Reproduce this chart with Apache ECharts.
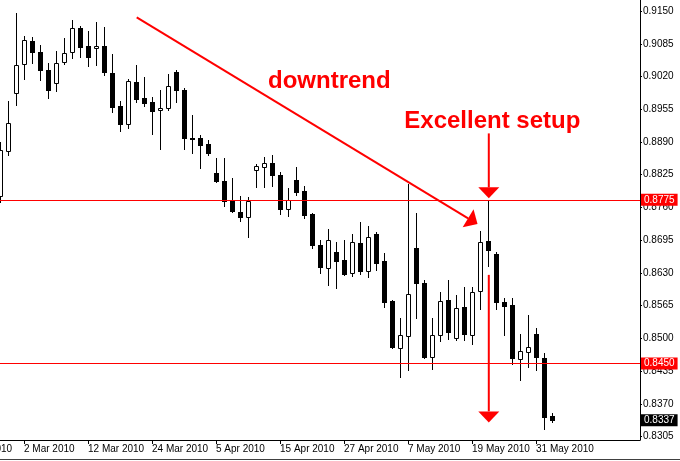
<!DOCTYPE html>
<html><head><meta charset="utf-8">
<script src="https://cdn.jsdelivr.net/npm/echarts@6/dist/echarts.min.js"></script>
<style>html,body{margin:0;padding:0;background:#fff}#c{width:680px;height:461px}</style>
</head><body><div id="c"></div>
<script>
// ---- data ----
const dates = ['25 Feb 2010','26 Feb 2010','1 Mar 2010','2 Mar 2010','3 Mar 2010','4 Mar 2010','5 Mar 2010','8 Mar 2010','9 Mar 2010','10 Mar 2010','11 Mar 2010','12 Mar 2010','15 Mar 2010','16 Mar 2010','17 Mar 2010','18 Mar 2010','19 Mar 2010','22 Mar 2010','23 Mar 2010','24 Mar 2010','25 Mar 2010','26 Mar 2010','29 Mar 2010','30 Mar 2010','31 Mar 2010','1 Apr 2010','2 Apr 2010','5 Apr 2010','6 Apr 2010','7 Apr 2010','8 Apr 2010','9 Apr 2010','12 Apr 2010','13 Apr 2010','14 Apr 2010','15 Apr 2010','16 Apr 2010','19 Apr 2010','20 Apr 2010','21 Apr 2010','22 Apr 2010','23 Apr 2010','26 Apr 2010','27 Apr 2010','28 Apr 2010','29 Apr 2010','30 Apr 2010','3 May 2010','4 May 2010','5 May 2010','6 May 2010','7 May 2010','10 May 2010','11 May 2010','12 May 2010','13 May 2010','14 May 2010','17 May 2010','18 May 2010','19 May 2010','20 May 2010','21 May 2010','24 May 2010','25 May 2010','26 May 2010','27 May 2010','28 May 2010','31 May 2010','1 Jun 2010','2 Jun 2010'];

const openP = [0.8783,0.8873,0.8987,0.9044,0.9090,0.9068,0.9032,0.9008,0.9048,0.9068,
0.9116,0.9080,0.9076,0.9080,0.9027,0.8961,0.8925,0.9009,0.8977,0.8969,
0.8953,0.8958,0.9029,0.8993,0.8898,0.8898,0.8886,0.8828,0.8813,0.8773,
0.8751,0.8740,0.8834,0.8841,0.8848,0.8824,0.8756,0.8815,0.8793,0.8747,
0.8685,0.8640,0.8672,0.8656,0.8629,0.8689,0.8633,0.8707,0.8654,0.8574,
0.8480,0.8504,0.8680,0.8610,0.8463,0.8506,0.8576,0.8500,0.8562,0.8507,
0.8594,0.8693,0.8668,0.8572,0.8566,0.8458,0.8473,0.8509,0.8461,0.8346];

const highP = [0.8889,0.8971,0.9147,0.9100,0.9098,0.9082,0.9047,0.9071,0.9096,0.9132,
0.9120,0.9110,0.9128,0.9118,0.9065,0.8971,0.9016,0.9043,0.9019,0.8979,
0.8993,0.9025,0.9033,0.8998,0.8944,0.8904,0.8894,0.8858,0.8858,0.8818,
0.8783,0.8780,0.8846,0.8860,0.8864,0.8830,0.8799,0.8840,0.8803,0.8748,
0.8695,0.8717,0.8692,0.8695,0.8707,0.8731,0.8723,0.8711,0.8670,0.8576,
0.8541,0.8807,0.8748,0.8616,0.8541,0.8592,0.8616,0.8586,0.8602,0.8602,
0.8713,0.8775,0.8672,0.8580,0.8580,0.8508,0.8547,0.8521,0.8471,0.8351];

const lowP = [0.8771,0.8865,0.8964,0.9016,0.9047,0.9014,0.8978,0.8992,0.9044,0.9057,
0.9059,0.9041,0.9043,0.9024,0.8950,0.8912,0.8918,0.8969,0.8962,0.8906,
0.8877,0.8954,0.8969,0.8877,0.8869,0.8839,0.8865,0.8811,0.8763,0.8750,
0.8734,0.8702,0.8801,0.8801,0.8803,0.8746,0.8742,0.8785,0.8738,0.8680,
0.8629,0.8605,0.8599,0.8626,0.8623,0.8627,0.8621,0.8636,0.8563,0.8480,
0.8424,0.8438,0.8541,0.8461,0.8440,0.8494,0.8499,0.8496,0.8496,0.8488,
0.8559,0.8644,0.8559,0.8507,0.8449,0.8418,0.8443,0.8438,0.8319,0.8334];

const closeP = [0.8874,0.8927,0.9042,0.9092,0.9068,0.9032,0.8993,0.9046,0.9066,0.9116,
0.9079,0.9059,0.9080,0.9028,0.8960,0.8925,0.9012,0.8976,0.8968,0.8952,
0.8957,0.9002,0.8994,0.8898,0.8895,0.8883,0.8869,0.8813,0.8773,0.8752,
0.8740,0.8773,0.8842,0.8848,0.8825,0.8756,0.8774,0.8791,0.8744,0.8686,
0.8642,0.8695,0.8654,0.8627,0.8691,0.8634,0.8701,0.8650,0.8573,0.8482,
0.8507,0.8588,0.8609,0.8462,0.8507,0.8574,0.8513,0.8560,0.8509,0.8592,
0.8691,0.8676,0.8573,0.8565,0.8460,0.8474,0.8483,0.8462,0.8343,0.8337];

const labelDates = ['2 Mar 2010','12 Mar 2010','24 Mar 2010','5 Apr 2010','15 Apr 2010','27 Apr 2010','7 May 2010','19 May 2010','31 May 2010'];
const cutLabel = '18 Feb 2010';
const priceTicks = [0.8305,0.8370,0.8435,0.8500,0.8565,0.8630,0.8695,0.8760,0.8825,0.8890,0.8955,0.9020,0.9085,0.9150];
const levelLines = [0.8775, 0.8450];
const lastPrice = 0.8337;

// annotations in data coordinates: [x(bar index), price] start -> tip
const arrowStartX = [17.09, 61.1, 61.1];
const arrowStartP = [0.91375, 0.8907, 0.8626];
const arrowEndX   = [59.69, 61.1, 61.1];
const arrowEndP   = [0.8727, 0.8778, 0.8333];
const noteTexts = ['downtrend', 'Excellent setup'];
const noteX = [33.5, 50.54];
const noteP = [0.9010, 0.8931];

// ---- chart ----
const FONT = "'Liberation Sans', Arial, sans-serif";
const chart = echarts.init(document.getElementById('c'), null, {renderer: 'canvas'});
const tickIdx = labelDates.map(d => dates.indexOf(d));
const candleData = dates.map((d, i) => [i, openP[i], closeP[i], lowP[i], highP[i]]);
const arrowData = arrowStartX.map((x, i) => [x, arrowStartP[i], arrowEndX[i], arrowEndP[i]]);
const noteData = noteTexts.map((t, i) => [noteX[i], noteP[i]]);

function renderCandle(params, api) {
  const i = api.value(0), o = api.value(1), c = api.value(2), l = api.value(3), h = api.value(4);
  const cx = Math.round(api.coord([i, o])[0]);
  const yO = Math.round(api.coord([i, o])[1]);
  const yC = Math.round(api.coord([i, c])[1]);
  const yL = Math.round(api.coord([i, l])[1]);
  const yH = Math.round(api.coord([i, h])[1]);
  const children = [{
    type: 'line',
    shape: {x1: cx + 0.5, y1: yH, x2: cx + 0.5, y2: yL + 1},
    style: {stroke: '#000', lineWidth: 1}
  }];
  if (c >= o) {
    children.push({type: 'rect',
      shape: {x: cx - 1.5, y: yC + 0.5, width: 4, height: Math.max(yO - yC, 1)},
      style: {fill: '#fff', stroke: '#000', lineWidth: 1}});
  } else {
    children.push({type: 'rect',
      shape: {x: cx - 2, y: yO, width: 5, height: Math.max(yC - yO, 1) + 1},
      style: {fill: '#000'}});
  }
  return {type: 'group', children};
}

function renderArrow(params, api) {
  const a = api.coord([api.value(0), api.value(1)]);
  const b = api.coord([api.value(2), api.value(3)]);
  const dx = b[0] - a[0], dy = b[1] - a[1];
  const len = Math.hypot(dx, dy);
  const ux = dx / len, uy = dy / len;
  const hl = 11, hw = 10.5;
  const bx = b[0] - ux * hl, by = b[1] - uy * hl;
  const nx = -uy, ny = ux;
  return {type: 'group', children: [
    {type: 'line', shape: {x1: a[0], y1: a[1], x2: bx, y2: by}, style: {stroke: '#ff0000', lineWidth: 2}},
    {type: 'polygon', shape: {points: [[b[0], b[1]], [bx + nx * hw, by + ny * hw], [bx - nx * hw, by - ny * hw]]},
      style: {fill: '#ff0000'}}
  ]};
}

function renderNote(params, api) {
  const p = api.coord([api.value(0), api.value(1)]);
  return {type: 'text', x: p[0], y: p[1],
    style: {text: noteTexts[params.dataIndex], fill: '#ff0000',
      font: "bold 24px " + FONT, align: 'left', verticalAlign: 'middle'}};
}

function markLabel(bg) {
  return {
    show: true, position: 'end', distance: 1,
    formatter: p => Number(p.value).toFixed(4),
    color: '#fff', backgroundColor: bg,
    fontFamily: FONT, fontSize: 10, padding: [1, 3, 1, 3]
  };
}

chart.setOption({
  animation: false,
  backgroundColor: '#fff',
  grid: {left: 0, right: 40, top: 0, bottom: 21, containLabel: false, outerBoundsMode: 'none'},
  xAxis: {
    type: 'value', min: 0, max: 80, position: 'bottom',
    axisLine: {show: true, onZero: false, lineStyle: {color: '#000', width: 1}},
    axisTick: {show: true, length: 4, customValues: tickIdx, lineStyle: {color: '#000'}},
    axisLabel: {show: true, customValues: tickIdx, align: 'left', margin: 4,
      formatter: v => dates[Math.round(v)] || '',
      color: '#000', fontFamily: FONT, fontSize: 10},
    splitLine: {show: false}
  },
  yAxis: {
    type: 'value', min: 0.8298, max: 0.9172, position: 'right', scale: true,
    axisLine: {show: true, onZero: false, lineStyle: {color: '#000', width: 1}},
    axisTick: {show: true, length: 2, customValues: priceTicks, lineStyle: {color: '#000'}},
    axisLabel: {show: true, customValues: priceTicks, margin: 3,
      formatter: v => Number(v).toFixed(4),
      color: '#000', fontFamily: FONT, fontSize: 10},
    splitLine: {show: false}
  },
  series: [
    {
      type: 'line', data: [], z: 1, silent: true,
      markLine: {
        silent: true, symbol: 'none', animation: false, precision: 4,
        lineStyle: {color: '#ff0000', width: 1, type: 'solid'},
        label: markLabel('#ff0000'),
        emphasis: {disabled: true},
        data: levelLines.map(v => ({yAxis: v}))
      }
    },
    {
      type: 'line', data: [], z: 1, silent: true,
      markLine: {
        silent: true, symbol: 'none', animation: false, precision: 4,
        lineStyle: {color: 'rgba(0,0,0,0)', width: 1, type: 'solid'},
        label: markLabel('#000'),
        emphasis: {disabled: true},
        data: [{yAxis: lastPrice}]
      }
    },
    {
      type: 'custom', z: 2, silent: true, data: candleData,
      encode: {x: 0, y: [1, 2, 3, 4]},
      renderItem: renderCandle
    },
    {
      type: 'custom', z: 3, silent: true, data: arrowData,
      encode: {x: [0, 2], y: [1, 3]},
      renderItem: renderArrow
    },
    {
      type: 'custom', z: 3, silent: true, data: noteData,
      encode: {x: 0, y: 1},
      renderItem: renderNote
    }
  ],
  graphic: [
    {type: 'text', x: -44, y: 449.5, silent: true,
      style: {text: cutLabel, fill: '#000', font: "10px " + FONT, verticalAlign: 'middle'}},
    {type: 'line', silent: true, shape: {x1: 0, y1: 459.5, x2: 680, y2: 459.5},
      style: {stroke: '#404040', lineWidth: 1}}
  ]
});
</script></body></html>
